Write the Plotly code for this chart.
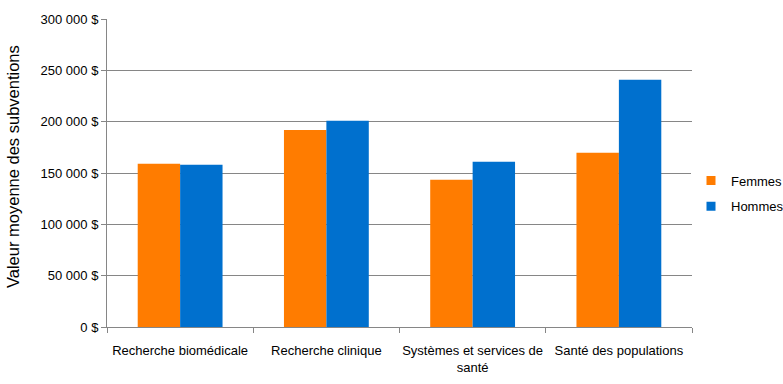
import plotly.graph_objects as go

categories = ["Recherche biomédicale", "Recherche clinique", "Systèmes et services de<br>santé", "Santé des populations"]
femmes = [159000, 192000, 143500, 169700]
hommes = [158000, 201000, 161000, 240800]
tick_vals = [0, 50000, 100000, 150000, 200000, 250000, 300000]
tick_text = ["0 $", "50 000 $", "100 000 $", "150 000 $", "200 000 $", "250 000 $", "300 000 $"]
series = [("Femmes", femmes, "#FF7C00"), ("Hommes", hommes, "#0070CE")]

fig = go.Figure()
for name, vals, col in series:
    fig.add_trace(go.Bar(name=name, x=categories, y=vals, marker=dict(color=col, line=dict(width=0)),
                         showlegend=False, legendgroup=name))
for name, vals, col in series:
    fig.add_trace(go.Scatter(name=name, x=[None], y=[None], mode="markers",
                             marker=dict(symbol="square", size=9, color=col),
                             showlegend=True, legendgroup=name))

fig.update_layout(
    width=783, height=384,
    margin=dict(l=107, r=91, t=19, b=57, autoexpand=False),
    paper_bgcolor="white", plot_bgcolor="white",
    barmode="group", bargap=0.42, bargroupgap=0,
    font=dict(family="Liberation Sans, Arial, sans-serif", size=13, color="#000000"),
    legend=dict(xref="container", yref="container", x=691/783, y=1 - 193.5/384, xanchor="left", yanchor="middle",
                font=dict(size=13), itemwidth=30, tracegroupgap=6),
    showlegend=True,
    annotations=[dict(text="Valeur moyenne des subventions", textangle=-90, xref="paper", yref="paper",
                      x=(13 - 107) / 585, y=(327 - 167) / 308, xanchor="center", yanchor="middle", showarrow=False,
                      font=dict(size=16.5, color="#000000"))],
)
fig.update_xaxes(
    tickson="boundaries", ticks="outside", ticklen=5, tickcolor="#868686",
    showline=True, linecolor="#868686", linewidth=1, showgrid=False,
    tickfont=dict(size=13), tickangle=0, automargin=False, ticklabelstandoff=11,
)
fig.update_yaxes(
    range=[0, 300000], tickvals=tick_vals, ticktext=tick_text,
    ticks="outside", ticklen=5, tickcolor="#868686",
    showline=True, linecolor="#868686", linewidth=1,
    showgrid=True, gridcolor="#868686", gridwidth=1, zeroline=False,
    tickfont=dict(size=13), automargin=False,
)
fig.write_html("out.html", config={"displayModeBar": False},
               post_script="document.body.style.margin='0';document.body.style.overflow='hidden';")
